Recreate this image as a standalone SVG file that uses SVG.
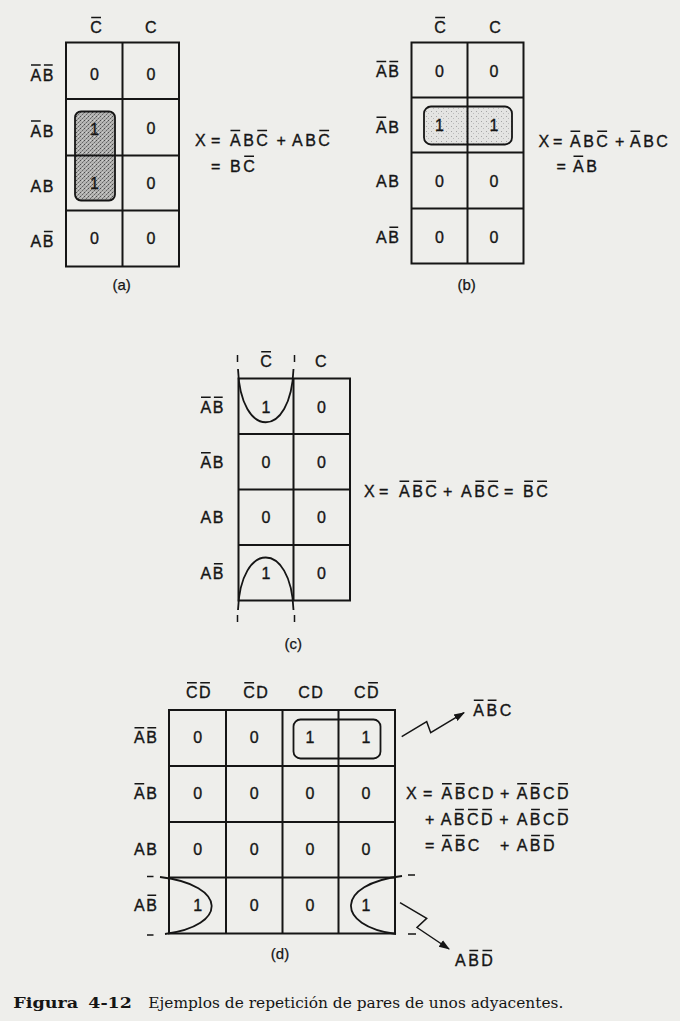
<svg xmlns="http://www.w3.org/2000/svg" width="680" height="1021" viewBox="0 0 680 1021">
<defs>
<style>
.lb{font-family:"Liberation Sans",Arial,sans-serif;font-size:16px;letter-spacing:1.5px;fill:#151515;stroke:#151515;stroke-width:0.35px}
.eq{font-family:"Liberation Sans",Arial,sans-serif;font-size:16px;letter-spacing:2.5px;fill:#151515;stroke:#151515;stroke-width:0.35px}
.num{font-family:"Liberation Sans",Arial,sans-serif;font-size:16px;text-anchor:middle;fill:#151515;stroke:#151515;stroke-width:0.35px}
.cap{font-family:"Liberation Sans",Arial,sans-serif;font-size:15px;text-anchor:middle;fill:#151515;stroke:#151515;stroke-width:0.25px}
.capt{font-family:"DejaVu Serif","Liberation Serif",serif;font-size:15px;fill:#151515}
.bar{fill:none;stroke:#151515;stroke-width:1.4}
.grid{fill:none;stroke:#151515;stroke-width:2}
.loop{fill:none;stroke:#151515;stroke-width:1.8}
.tick{fill:none;stroke:#151515;stroke-width:1.5}
.conn{fill:none;stroke:#151515;stroke-width:1.5}
</style>
<pattern id="stipDark" width="4" height="4" patternUnits="userSpaceOnUse">
<rect width="4" height="4" fill="#b4b4b2"/>
<rect x="0" y="0" width="1" height="1" fill="#4a4a4a"/>
<rect x="2" y="2" width="1" height="1" fill="#666"/>
<rect x="3" y="1" width="1" height="1" fill="#808080"/>
<rect x="1" y="3" width="1" height="1" fill="#8e8e8e"/>
<rect x="2" y="0" width="1" height="1" fill="#d0d0d0"/>
</pattern>
<pattern id="stipLight" width="5" height="5" patternUnits="userSpaceOnUse">
<rect width="5" height="5" fill="#e4e4e2"/>
<rect x="1" y="1" width="1" height="1" fill="#a5a5a5"/>
<rect x="3" y="3" width="1" height="1" fill="#bbb"/>
</pattern>
<marker id="ah" viewBox="0 0 10 10" refX="9" refY="5" markerWidth="11" markerHeight="11" markerUnits="userSpaceOnUse" orient="auto">
<path d="M0 1.5L10 5L0 8.5z" fill="#151515"/>
</marker>
</defs>
<rect width="680" height="1021" fill="#eeeeeb"/>

<g id="map-a">
<rect x="75" y="111.5" width="40" height="89" rx="6" fill="url(#stipDark)"/>
<rect x="66" y="42.5" width="113" height="224" class="grid"/>
<path class="grid" d="M122.5 42.5V266.5M66 99H179M66 155.5H179M66 210.5H179"/>
<rect x="75" y="111.5" width="40" height="89" rx="6" class="loop" stroke-width="1.5"/>
<text class="lb" x="90.2" y="33">C</text>
<text class="lb" x="144.9" y="33">C</text>
<text class="lb" x="30.5" y="80.5">AB</text>
<text class="lb" x="30.5" y="136.5">AB</text>
<text class="lb" x="30.5" y="191.5">AB</text>
<text class="lb" x="30.5" y="247">AB</text>
<path class="bar" d="M91.2 17.5H101M31 65H40.7M43.9 65H52.7M31 121H40.7M43.9 231.5H52.7"/>
<text class="num" x="94.5" y="80">0</text><text class="num" x="151" y="80">0</text>
<text class="num" x="94.5" y="135">1</text><text class="num" x="151" y="134">0</text>
<text class="num" x="94.5" y="188.5">1</text><text class="num" x="151" y="189">0</text>
<text class="num" x="94.5" y="244">0</text><text class="num" x="151" y="244">0</text>
<text class="cap" x="121.7" y="290">(a)</text>
</g>

<g id="eq-a">
<text class="eq" y="146"><tspan x="195">X</tspan><tspan x="211">=</tspan><tspan x="230">ABC</tspan><tspan x="276.5">+</tspan><tspan x="292">ABC</tspan></text>
<text class="eq" y="171.7"><tspan x="211">=</tspan><tspan x="230">BC</tspan></text>
<path class="bar" d="M230.5 130.5H240.2M257.3 130.5H267.1M319.3 130.5H329.1M244.2 156.2H254"/>
</g>

<g id="map-b">
<rect x="424" y="106.5" width="88" height="38" rx="7" fill="url(#stipLight)"/>
<rect x="411.5" y="42.5" width="112" height="221" class="grid"/>
<path class="grid" d="M467.5 42.5V263.5M411.5 97.5H523.5M411.5 152.5H523.5M411.5 208.5H523.5"/>
<rect x="424" y="106.5" width="88" height="38" rx="7" class="loop"/>
<text class="lb" x="434.2" y="33">C</text>
<text class="lb" x="489.2" y="33">C</text>
<text class="lb" x="376" y="77">AB</text>
<text class="lb" x="376" y="132.7">AB</text>
<text class="lb" x="376" y="186.7">AB</text>
<text class="lb" x="376" y="242.7">AB</text>
<path class="bar" d="M435.2 17.5H445M376.5 61.5H386.2M389.4 61.5H398.2M376.5 117.2H386.2M389.4 227.2H398.2"/>
<text class="num" x="439.5" y="77">0</text><text class="num" x="494" y="77">0</text>
<text class="num" x="439.5" y="131">1</text><text class="num" x="494" y="131">1</text>
<text class="num" x="439.5" y="186.7">0</text><text class="num" x="494" y="186.7">0</text>
<text class="num" x="439.5" y="242.7">0</text><text class="num" x="494" y="242.7">0</text>
<text class="cap" x="466.7" y="290">(b)</text>
</g>

<g id="eq-b">
<text class="eq" y="146.7"><tspan x="538.5">X</tspan><tspan x="553">=</tspan><tspan x="570">ABC</tspan><tspan x="615">+</tspan><tspan x="630">ABC</tspan></text>
<text class="eq" y="171.7"><tspan x="556.5">=</tspan><tspan x="573">AB</tspan></text>
<path class="bar" d="M570.5 131.2H580.2M597.3 131.2H607.1M630.5 131.2H640.2M573.5 156.2H583.2"/>
</g>

<g id="map-c">
<rect x="238.5" y="378.5" width="111.5" height="222" class="grid"/>
<path class="grid" d="M293.5 378.5V600.5M238.5 434H350M238.5 489.5H350M238.5 545H350"/>
<path class="loop" d="M238 369C240.5 440 291 440 293.5 369M238 610C240.5 540 291 540 293.5 610"/>
<path class="tick" d="M237.5 355V362M294.5 355V362M237.5 615V622M294.5 615V622"/>
<text class="lb" x="260.2" y="367.3">C</text>
<text class="lb" x="314.9" y="367.3">C</text>
<text class="lb" x="200.5" y="412.7">AB</text>
<text class="lb" x="200.5" y="468.3">AB</text>
<text class="lb" x="200.5" y="523.3">AB</text>
<text class="lb" x="200.5" y="579.3">AB</text>
<path class="bar" d="M261.2 351.8H271M201 397.2H210.7M213.9 397.2H222.7M201 452.8H210.7M213.9 563.8H222.7"/>
<text class="num" x="266" y="412.7">1</text><text class="num" x="321.5" y="412.7">0</text>
<text class="num" x="266" y="468.3">0</text><text class="num" x="321.5" y="468.3">0</text>
<text class="num" x="266" y="523.3">0</text><text class="num" x="321.5" y="523.3">0</text>
<text class="num" x="266" y="579.3">1</text><text class="num" x="321.5" y="579.3">0</text>
<text class="cap" x="293.3" y="649">(c)</text>
</g>

<g id="eq-c">
<text class="eq" y="496.7"><tspan x="364">X</tspan><tspan x="379">=</tspan><tspan x="399">ABC</tspan><tspan x="443">+</tspan><tspan x="461">ABC</tspan><tspan x="504">=</tspan><tspan x="523">BC</tspan></text>
<path class="bar" d="M399.5 481.2H409.2M413.4 481.2H422.2M426.3 481.2H436.1M475.4 481.2H484.2M488.3 481.2H498.1M524.2 481.2H533M537.2 481.2H547"/>
</g>

<g id="map-d">
<rect x="169" y="710" width="226" height="223.5" class="grid"/>
<path class="grid" d="M226 710V933.5M282.5 710V933.5M338.5 710V933.5M169 766H395M169 822H395M169 877.5H395"/>
<rect x="293.5" y="719.5" width="87" height="39" rx="7" class="loop"/>
<path class="loop" d="M160 877C228 885 228 926 165 934M402 876C335 884 335 926 396 934"/>
<path class="tick" d="M147 876.5H153.5M147 935H153.5M408 875H415M408 934H416"/>
<text class="lb" x="186" y="698.3">CD</text>
<text class="lb" x="243.3" y="698.3">CD</text>
<text class="lb" x="298.3" y="698.3">CD</text>
<text class="lb" x="354" y="698.3">CD</text>
<text class="lb" x="134" y="743.3">AB</text>
<text class="lb" x="134" y="799.3">AB</text>
<text class="lb" x="134" y="855">AB</text>
<text class="lb" x="134" y="910.7">AB</text>
<path class="bar" d="M187 682.8H196.8M200.2 682.8H209.9M244.3 682.8H254.1M368.2 682.8H377.9M134.5 727.8H144.2M147.4 727.8H156.2M134.5 783.8H144.2M147.4 895.2H156.2"/>
<text class="num" x="197.7" y="743.3">0</text><text class="num" x="254.3" y="743.3">0</text><text class="num" x="310" y="743.3">1</text><text class="num" x="366" y="743.3">1</text>
<text class="num" x="197.7" y="799.3">0</text><text class="num" x="254.3" y="799.3">0</text><text class="num" x="310" y="799.3">0</text><text class="num" x="366" y="799.3">0</text>
<text class="num" x="197.7" y="855">0</text><text class="num" x="254.3" y="855">0</text><text class="num" x="310" y="855">0</text><text class="num" x="366" y="855">0</text>
<text class="num" x="197.7" y="910.7">1</text><text class="num" x="254.3" y="910.7">0</text><text class="num" x="310" y="910.7">0</text><text class="num" x="366" y="910.7">1</text>
<text class="cap" x="280" y="959">(d)</text>
</g>

<g id="eq-d">
<text class="eq" y="799.3"><tspan x="406">X</tspan><tspan x="423">=</tspan><tspan x="441.5">ABCD</tspan><tspan x="500">+</tspan><tspan x="516.7">ABCD</tspan></text>
<text class="eq" y="825"><tspan x="425">+</tspan><tspan x="440.7">ABCD</tspan><tspan x="499.3">+</tspan><tspan x="516.7">ABCD</tspan></text>
<text class="eq" y="851"><tspan x="425">=</tspan><tspan x="441.5">ABC</tspan><tspan x="500">+</tspan><tspan x="516.7">ABD</tspan></text>
<path class="bar" d="M442 783.8H451.7M455.9 783.8H464.7M517.2 783.8H526.9M531.1 783.8H539.9M558.3 783.8H567.9M455.1 809.5H463.9M468 809.5H477.8M482.3 809.5H491.9M531.1 809.5H539.9M558.3 809.5H567.9M442 835.5H451.7M455.9 835.5H464.7M531.1 835.5H539.9M544.2 835.5H553.8"/>
</g>

<g id="term-abc">
<text class="eq" x="473.3" y="715.7">ABC</text>
<path class="bar" d="M473.8 700.2H483.5M487.7 700.2H496.5"/>
</g>

<g id="term-abd">
<text class="eq" x="455" y="966">ABD</text>
<path class="bar" d="M469.4 950.5H478.2M482.5 950.5H492.1"/>
</g>

<g id="connectors">
<path class="conn" d="M401.7 736.7L426.7 721.7L430.7 732.7L464 712.7" marker-end="url(#ah)"/>
<path class="conn" d="M400 902.7L426.7 918.3L417 927.5L449 949" marker-end="url(#ah)"/>
</g>

<g id="caption">
<text class="capt" x="13.3" y="1008.3" font-weight="bold" textLength="65" lengthAdjust="spacingAndGlyphs">Figura</text>
<text class="capt" x="88.3" y="1008.3" font-weight="bold" textLength="43.5" lengthAdjust="spacingAndGlyphs">4-12</text>
<text class="capt" x="148.3" y="1008.3" textLength="415" lengthAdjust="spacingAndGlyphs">Ejemplos de repetición de pares de unos adyacentes.</text>
</g>
</svg>
